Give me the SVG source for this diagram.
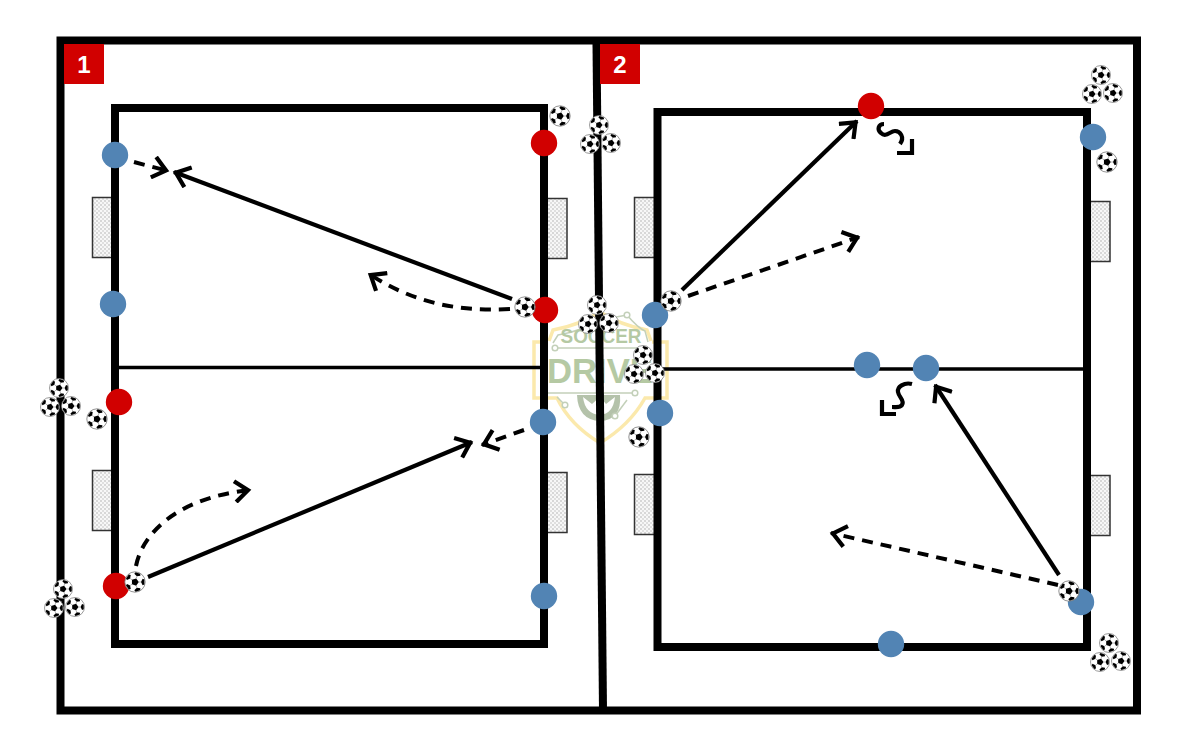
<svg xmlns="http://www.w3.org/2000/svg" width="1200" height="750" viewBox="0 0 1200 750">
<style>
.field{fill:none;stroke:#000;stroke-width:8}
.half{fill:none;stroke:#000;stroke-width:3.5}
.pass{fill:none;stroke:#000;stroke-width:4.2}
.run{fill:none;stroke:#000;stroke-width:4;stroke-dasharray:11 8}
.wig{fill:none;stroke:#000;stroke-width:4.2}
.blue{fill:#5284b4}
.red{fill:#d10000}
.goal{fill:url(#net);stroke:#333;stroke-width:1.5}
.tag{fill:#d10000}
.tagt{font:bold 24px "Liberation Sans",Arial,sans-serif;fill:#fff;text-anchor:middle}
.logo{fill:none;stroke:#fbe9ac;stroke-width:3.5}
.logot{font-family:"Liberation Sans",Arial,sans-serif;font-weight:bold;fill:#b5c9a3;text-anchor:middle}
.circ{fill:#fff;stroke:#c3d0b9;stroke-width:1.5}
.circl{fill:none;stroke:#c3d0b9;stroke-width:1.5}
.globe{fill:#b4c2aa}
</style>
<defs>
<pattern id="net" width="4" height="4" patternUnits="userSpaceOnUse"><rect width="4" height="4" fill="#f7f7f7"/><circle cx="1" cy="1" r="0.75" fill="#a8a8a8"/><circle cx="3" cy="3" r="0.75" fill="#bcbcbc"/></pattern>
<marker id="arrow" viewBox="0 0 24 24" refX="22" refY="12" markerWidth="24" markerHeight="24" markerUnits="userSpaceOnUse" orient="auto"><path d="M7 1.500L20 12L7 22.500" fill="none" stroke="#000" stroke-width="4.200"/></marker>
<g id="spot"><path d="M0-6L3.200-7.600L2.400-9.400H-2.400L-3.200-7.600Z" fill="#000"/><path d="M0-3.600V-6" stroke="#888" stroke-width="0.600"/></g>
<g id="ball">
<circle r="10.200" fill="#fff" stroke="#777" stroke-width="0.800"/>
<g transform="rotate(18)">
<path d="M0-3.800L3.600-1.200L2.200 3.100H-2.200L-3.600-1.200Z" fill="#000"/>
<use href="#spot"/><use href="#spot" transform="rotate(72)"/><use href="#spot" transform="rotate(144)"/><use href="#spot" transform="rotate(216)"/><use href="#spot" transform="rotate(288)"/>
</g>
</g>
<g id="trio">
<use href="#ball" transform="scale(.93)"/>
<use href="#ball" transform="translate(-9 19) scale(.93)"/>
<use href="#ball" transform="translate(12 18) scale(.93)"/>
</g>
</defs>
<rect width="1200" height="750" fill="#fff"/>
<g id="logo">
<path class="logo" d="M547 342H534V398H557Q570 425 600 443Q630 425 645 398H667V342H652"/>
<path class="logo" d="M549 341L553 330Q580 325 600 312Q620 325 647 330L651 341"/>
<path class="circl" d="M553 343L558 335Q582 331 600 320L627 315M627 315Q638 328 645 331L648 342"/>
<path class="globe" d="M577 395H620Q622 420 600 421Q578 420 577 395Z"/>
<path d="M583 397Q585 414 600 415Q613 414 615 397L606 404L600 397L592 404Z" fill="#fff"/>
<text class="logot" x="601" y="343" font-size="19.500" textLength="81" lengthAdjust="spacingAndGlyphs">SOCCER</text>
<text class="logot" x="600" y="383" font-size="35" textLength="106" lengthAdjust="spacingAndGlyphs">DRIVE</text>
<path class="circl" d="M555 348H640M548 393H635M557 397L565 405M615 416L627 400"/>
<circle class="circ" cx="555" cy="348" r="2.800"/>
<circle class="circ" cx="627" cy="315" r="2.800"/>
<circle class="circ" cx="635" cy="393" r="2.800"/>
<circle class="circ" cx="565" cy="405" r="2.800"/>
<circle class="circ" cx="615" cy="416" r="2.800"/>
</g>
<g id="goals">
<rect class="goal" x="92.500" y="197.500" width="22" height="60"/>
<rect class="goal" x="92.500" y="470.500" width="22" height="60"/>
<rect class="goal" x="545" y="198.500" width="22" height="60"/>
<rect class="goal" x="545" y="472.500" width="22" height="60"/>
<rect class="goal" x="634.500" y="197.500" width="22" height="60"/>
<rect class="goal" x="634.500" y="474.500" width="22" height="60"/>
<rect class="goal" x="1088" y="201.500" width="22" height="60"/>
<rect class="goal" x="1088" y="475.500" width="22" height="60"/>
</g>
<g id="fields">
<rect class="field" x="60.500" y="40.500" width="1076.500" height="670"/>
<path class="field" d="M596.500 44L603 710"/>
<rect class="field" x="115" y="108" width="429" height="536"/>
<rect class="field" x="657.500" y="112" width="429.500" height="535"/>
<path class="half" d="M117 367.500H542M660 369H1085"/>
</g>
<g id="tag1"><rect class="tag" x="64" y="44" width="40" height="40"/><text class="tagt" x="84" y="73">1</text></g>
<g id="tag2"><rect class="tag" x="600" y="44" width="40" height="40"/><text class="tagt" x="620" y="73">2</text></g>
<g id="connectors">
<path class="pass" marker-end="url(#arrow)" d="M512 299L174 172"/>
<path class="pass" marker-end="url(#arrow)" d="M148 577L472 442"/>
<path class="pass" marker-end="url(#arrow)" d="M682 290L857 121"/>
<path class="pass" marker-end="url(#arrow)" d="M1059 575L935 385"/>
<path class="run" marker-end="url(#arrow)" d="M134 162L168 171"/>
<path class="run" marker-end="url(#arrow)" d="M510 309C450 312 410 300 369 274"/>
<path class="run" marker-end="url(#arrow)" d="M524 430L482 445"/>
<path class="run" marker-end="url(#arrow)" d="M136 566C142 535 175 498 250 490"/>
<path class="run" marker-end="url(#arrow)" d="M688 296L859 237"/>
<path class="run" marker-end="url(#arrow)" d="M1058 585L831 533"/>
<path class="wig" d="M884 124C878 124 877 130 881 133C886 138 890 131 895 131C900 131 905 137 900 144"/>
<path class="wig" d="M897 153H912V139"/>
<path class="wig" d="M912 384C904 382 897 387 898 392C899 398 905 400 902 405C900 408 896 407 892 407"/>
<path class="wig" d="M882 400V414H896"/>
</g>
<g id="players">
<circle class="blue" cx="115" cy="155" r="13.200"/>
<circle class="blue" cx="113" cy="304" r="13.200"/>
<circle class="red" cx="119" cy="402" r="13.200"/>
<circle class="red" cx="116" cy="586" r="13.200"/>
<circle class="red" cx="544" cy="143" r="13.200"/>
<circle class="red" cx="545" cy="310" r="13.200"/>
<circle class="blue" cx="543" cy="422" r="13.200"/>
<circle class="blue" cx="544" cy="596" r="13.200"/>
<circle class="blue" cx="655" cy="315" r="13.200"/>
<circle class="blue" cx="660" cy="413" r="13.200"/>
<circle class="red" cx="871" cy="106" r="13.200"/>
<circle class="blue" cx="1093" cy="137" r="13.200"/>
<circle class="blue" cx="867" cy="365" r="13.200"/>
<circle class="blue" cx="926" cy="368" r="13.200"/>
<circle class="blue" cx="1081" cy="602" r="13.200"/>
<circle class="blue" cx="891" cy="644" r="13.200"/>
</g>
<g id="balls">
<use href="#ball" x="560" y="116"/>
<use href="#trio" x="599" y="125"/>
<use href="#ball" x="525" y="307"/>
<use href="#trio" x="597" y="305"/>
<use href="#trio" x="643" y="355"/>
<use href="#ball" x="671" y="301"/>
<use href="#ball" x="639" y="437"/>
<use href="#trio" x="1101" y="75"/>
<use href="#ball" x="1107" y="162"/>
<use href="#trio" x="59" y="388"/>
<use href="#ball" x="97" y="419"/>
<use href="#ball" x="135" y="582"/>
<use href="#trio" x="63" y="589"/>
<use href="#ball" x="1069" y="591"/>
<use href="#trio" x="1109" y="643"/>
</g>
</svg>
